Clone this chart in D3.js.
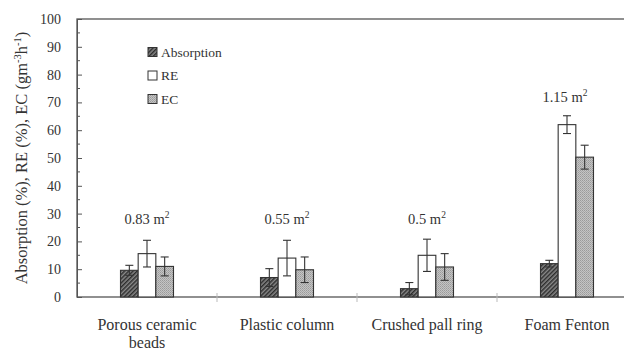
<!DOCTYPE html>
<html>
<head>
<meta charset="utf-8">
<script src="https://cdn.jsdelivr.net/npm/d3@7"></script>
<style>
  body { margin: 0; background: #fff; overflow: hidden; }
  text { font-family: "Liberation Serif", "Times New Roman", "DejaVu Serif", serif; fill: #333; }
</style>
</head>
<body>
<div id="chart"></div>
<script>
// data
var categories = ["Porous ceramic beads", "Plastic column", "Crushed pall ring", "Foam Fenton"];
var areaLabels = ["0.83", "0.55", "0.5", "1.15"];
var seriesNames = ["Absorption", "RE", "EC"];
var absorption = [9.6, 7.0, 3.0, 12.0];
var absorptionErr = [1.8, 3.2, 2.2, 1.2];
var re = [15.6, 14.0, 15.0, 62.0];
var reErr = [4.8, 6.4, 5.8, 3.2];
var ec = [11.0, 9.8, 10.8, 50.3];
var ecErr = [3.4, 4.6, 4.8, 4.3];
var yTicks = [0, 10, 20, 30, 40, 50, 60, 70, 80, 90, 100];

var width = 624, height = 353;
var margin = { left: 77, top: 19, bottom: 56 };
var plotW = 560; // the frame runs past the right edge of the window
var plotH = height - margin.top - margin.bottom;

var svg = d3.select("#chart").append("svg")
    .attr("width", width)
    .attr("height", height);

// patterns for the fills
var defs = svg.append("defs");
var hatch = defs.append("pattern")
    .attr("id", "hatch")
    .attr("patternUnits", "userSpaceOnUse")
    .attr("width", 3).attr("height", 3)
    .attr("patternTransform", "rotate(45)");
hatch.append("rect").attr("width", 3).attr("height", 3).attr("fill", "#8a8a8a");
hatch.append("rect").attr("width", 1.5).attr("height", 3).attr("fill", "#2e2e2e");

var dots = defs.append("pattern")
    .attr("id", "dots")
    .attr("patternUnits", "userSpaceOnUse")
    .attr("width", 2).attr("height", 2);
dots.append("rect").attr("width", 2).attr("height", 2).attr("fill", "#c4c4c4");
dots.append("rect").attr("width", 1).attr("height", 1).attr("fill", "#9a9a9a");
dots.append("rect").attr("x", 1).attr("y", 1).attr("width", 1).attr("height", 1).attr("fill", "#a8a8a8");

var fills = ["url(#hatch)", "#fff", "url(#dots)"];

var x = d3.scaleBand()
    .domain(categories)
    .range([margin.left, margin.left + plotW]);

var xs = d3.scaleBand()
    .domain(seriesNames)
    .range([x.bandwidth() / 2 - 26.5, x.bandwidth() / 2 + 26.5]);

var y = d3.scaleLinear()
    .domain([0, 100])
    .range([margin.top + plotH, margin.top]);

// frame
var g = svg.append("g");
g.append("rect")
    .attr("x", margin.left).attr("y", margin.top)
    .attr("width", plotW).attr("height", plotH)
    .attr("fill", "none")
    .attr("stroke", "#555")
    .attr("stroke-width", 1.3);

// y axis with inward ticks
var yAxis = d3.axisLeft(y).tickValues(yTicks).tickSize(-5).tickPadding(16);
var ya = svg.append("g")
    .attr("transform", "translate(" + margin.left + ",0)")
    .call(yAxis);
ya.attr("font-family", null);
ya.select(".domain").attr("stroke", "#555");
ya.selectAll(".tick line").attr("stroke", "#555");
ya.selectAll(".tick text")
    .attr("font-size", 14)
    .attr("fill", "#333");

// minor ticks at the halves
var minor = d3.range(5, 100, 10);
svg.append("g").selectAll("line")
    .data(minor)
    .enter()
    .append("line")
    .attr("x1", margin.left).attr("x2", margin.left + 3)
    .attr("y1", function(d) { return y(d); })
    .attr("y2", function(d) { return y(d); })
    .attr("stroke", "#555");

// faint separators between categories on the x axis
svg.append("g").selectAll("line")
    .data(categories.slice(1))
    .enter()
    .append("line")
    .attr("x1", function(d) { return x(d); })
    .attr("x2", function(d) { return x(d); })
    .attr("y1", y(0) - 4).attr("y2", y(0) + 5)
    .attr("stroke", "#bbb");

// bars
var series = [
    { name: "Absorption", values: absorption, errs: absorptionErr },
    { name: "RE", values: re, errs: reErr },
    { name: "EC", values: ec, errs: ecErr }
];

series.forEach(function(s, si) {
    var grp = svg.append("g");
    grp.selectAll("rect")
        .data(s.values)
        .enter()
        .append("rect")
        .attr("x", function(d, i) { return x(categories[i]) + xs(s.name); })
        .attr("y", function(d) { return y(d); })
        .attr("width", xs.bandwidth())
        .attr("height", function(d) { return y(0) - y(d); })
        .attr("fill", fills[si])
        .attr("stroke", "#333")
        .attr("stroke-width", 1.1);

    // error bars
    var eb = svg.append("g").attr("stroke", "#333").attr("stroke-width", 1.1);
    s.values.forEach(function(v, i) {
        var cx = x(categories[i]) + xs(s.name) + xs.bandwidth() / 2;
        var e = s.errs[i];
        eb.append("line").attr("x1", cx).attr("x2", cx).attr("y1", y(v + e)).attr("y2", y(v - e));
        eb.append("line").attr("x1", cx - 4).attr("x2", cx + 4).attr("y1", y(v + e)).attr("y2", y(v + e));
        eb.append("line").attr("x1", cx - 4).attr("x2", cx + 4).attr("y1", y(v - e)).attr("y2", y(v - e));
    });
});

// area labels above each group
var areaY = [224, 224, 224, 102];
var areaShift = [0, 0, 0, -2];
svg.append("g").selectAll("text")
    .data(areaLabels)
    .enter()
    .append("text")
    .attr("x", function(d, i) { return x(categories[i]) + x.bandwidth() / 2 + areaShift[i]; })
    .attr("y", function(d, i) { return areaY[i]; })
    .attr("text-anchor", "middle")
    .attr("font-size", 14.5)
    .each(function(d) {
        var t = d3.select(this);
        t.append("tspan").text(d + " m");
        t.append("tspan").attr("dy", -6).attr("font-size", 9.5).text("2");
    });

// x labels (wrapped like the original)
var xLines = [["Porous ceramic", "beads"], ["Plastic column"], ["Crushed pall ring"], ["Foam Fenton"]];
svg.append("g").selectAll("text")
    .data(categories)
    .enter()
    .append("text")
    .attr("x", function(d) { return x(d) + x.bandwidth() / 2; })
    .attr("y", 330)
    .attr("text-anchor", "middle")
    .attr("font-size", 16)
    .each(function(d, i) {
        var t = d3.select(this);
        xLines[i].forEach(function(line, li) {
            t.append("tspan")
                .attr("x", x(d) + x.bandwidth() / 2)
                .attr("dy", li === 0 ? 0 : 18)
                .text(line);
        });
    });

// legend
var legend = svg.append("g").attr("transform", "translate(148,52)");
seriesNames.forEach(function(n, i) {
    var row = legend.append("g").attr("transform", "translate(0," + (i * 23.5) + ")");
    row.append("rect")
        .attr("x", 0).attr("y", -4.5)
        .attr("width", 9).attr("height", 9)
        .attr("fill", fills[i])
        .attr("stroke", "#333");
    row.append("text")
        .attr("x", 13).attr("y", 4.5)
        .attr("font-size", 13.5)
        .text(n);
});

// y axis title
var yt = svg.append("text")
    .attr("transform", "translate(27,158) rotate(-90)")
    .attr("text-anchor", "middle")
    .attr("font-size", 16.5);
yt.append("tspan").text("Absorption (%), RE (%), EC (gm");
yt.append("tspan").attr("dy", -6).attr("font-size", 10.5).text("-3");
yt.append("tspan").attr("dy", 6).text("h");
yt.append("tspan").attr("dy", -6).attr("font-size", 10.5).text("-1");
yt.append("tspan").attr("dy", 6).text(")");
</script>
</body>
</html>
